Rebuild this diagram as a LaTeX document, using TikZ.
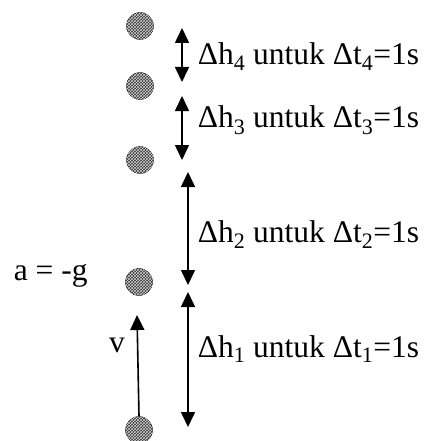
\documentclass[tikz,border=0pt]{standalone}
\usepackage{fontspec}
\setmainfont{Liberation Serif}
\usetikzlibrary{arrows.meta, patterns}

\begin{document}
\begin{tikzpicture}[x = 1pt, y = -1pt, % picture units, y going down
                >= {Triangle[width=14pt, length=15pt]}, % arrow head style
                line width = 1.6pt % line style
            ]

            \tikzstyle{ball}=[draw = black, thin, circle, fill = black!80, inner sep = 0pt,
            minimum size = 27pt, postaction = {pattern = crosshatch, pattern color = gray!35}]
            \tikzstyle{lbl}=[anchor = base west, inner sep = 0pt, font = \fontsize{31.5}{36}\selectfont]

            \useasboundingbox (0,0) rectangle (427,441);

            % the ball, one second apart
            \node[ball] (b1) at (140,26) {}; \node[ball] (b2) at (140,86) {};
            \node[ball] (b3) at (140,160) {}; \node[ball] (b4) at (139,282) {};
            \node[ball] (b5) at (139,430) {};

            % ends of the height arrows
            \coordinate (h4t) at (182,28); \coordinate (h4b) at (182,82);
            \coordinate (h3t) at (182,96); \coordinate (h3b) at (182,160);
            \coordinate (h2t) at (188,172); \coordinate (h2b) at (188,285);
            \coordinate (h1t) at (188,292); \coordinate (h1b) at (188,427);
            \coordinate (vt) at (137,315);

            \path[<->] (h4t) edge (h4b); \path[<->] (h3t) edge (h3b);
            \path[<->] (h2t) edge (h2b); \path[<->] (h1t) edge (h1b);
            \path[->] (b5.north) edge (vt);

            \node[lbl] (l4) at (197,65) {Δh\textsubscript{4} untuk Δt\textsubscript{4}=1s};
            \node[lbl] (l3) at (197,128) {Δh\textsubscript{3} untuk Δt\textsubscript{3}=1s};
            \node[lbl] (l2) at (197,242) {Δh\textsubscript{2} untuk Δt\textsubscript{2}=1s};
            \node[lbl] (l1) at (197,357) {Δh\textsubscript{1} untuk Δt\textsubscript{1}=1s};
            \node[lbl] (acc) at (13,280) {a = -g};
            \node[lbl, anchor = base] (vel) at (117,352) {v};
\end{tikzpicture}
\end{document}
